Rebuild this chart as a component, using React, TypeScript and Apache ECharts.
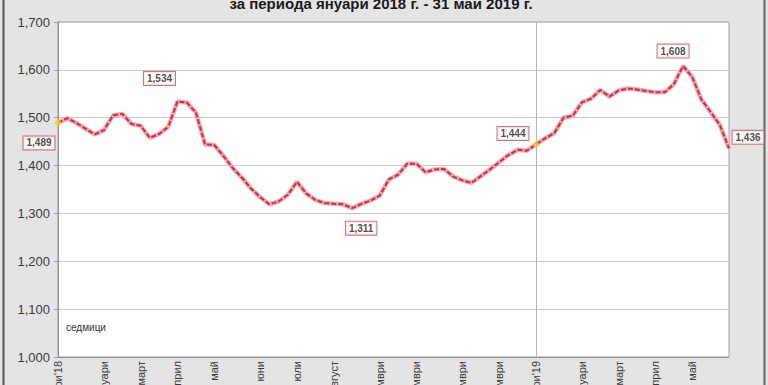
import React, { useEffect, useRef } from "react";
import * as echarts from "echarts";

const weekValues: number[] = [
  1.489, 1.499, 1.489, 1.477, 1.465, 1.474, 1.505, 1.508, 1.487, 1.483,
  1.458, 1.466, 1.481, 1.534, 1.532, 1.511, 1.444, 1.443, 1.42, 1.395,
  1.375, 1.352, 1.334, 1.319, 1.325, 1.339, 1.366, 1.342, 1.328, 1.322,
  1.32, 1.319, 1.311, 1.32, 1.327, 1.337, 1.371, 1.381, 1.404, 1.404,
  1.386, 1.392, 1.393, 1.377, 1.369, 1.364, 1.378, 1.392, 1.407, 1.422,
  1.433, 1.431, 1.444, 1.457, 1.468, 1.5, 1.504, 1.532, 1.54, 1.558,
  1.544, 1.557, 1.561, 1.559, 1.556, 1.553, 1.553, 1.57, 1.608, 1.585,
  1.538, 1.512, 1.485, 1.436,
];

const weekCategories: string[] = weekValues.map((_, i) => String(i));

const monthLabels: string[] = [
  "януари'18", "февруари", "март", "април", "май", "юни", "юли", "август",
  "септември", "октомври", "ноември", "декември", "януари'19", "февруари",
  "март", "април", "май",
];
const monthWeekIndex: number[] = [0, 5, 9, 13, 17, 22, 26, 30, 35, 39, 44, 48, 52, 57, 61, 65, 69];

const labeledWeeks: number[] = [0, 13, 32, 52, 68, 73];
const markerWeeks: number[] = [0, 12, 52];
const yearBreakWeek = 52;

const titleText = "за периода януари 2018 г. - 31 май 2019 г.";
const unitText = "седмици";

const fmt = (v: number) => v.toFixed(3).replace(".", ",");

export default function App() {
  const ref = useRef<HTMLDivElement>(null);
  useEffect(() => {
    if (!ref.current) return;
    const chart = echarts.init(ref.current, null, { renderer: "svg" });
    const labelOffsets: Record<number, [number, number]> = {
      0: [-19, 20],
      13: [-18, -23],
      32: [9, 20],
      52: [-23, -11],
      68: [-10, -15],
      73: [19, -11],
    };
    const monthMap: Record<number, string> = {};
    monthWeekIndex.forEach((w, k) => (monthMap[w] = monthLabels[k]));

    chart.setOption({
      animation: false,
      backgroundColor: "#e4e4e4",
      grid: {
        left: 58,
        right: 39,
        top: 22,
        bottom: 28,
        containLabel: false,
        outerBoundsMode: "none",
        show: true,
        backgroundColor: "#ffffff",
        borderColor: "#a0a0a0",
        borderWidth: 1,
      },
      xAxis: {
        type: "category",
        data: weekCategories,
        boundaryGap: false,
        axisLine: { lineStyle: { color: "#909090" } },
        axisTick: { show: false },
        splitLine: { show: false },
        axisLabel: {
          rotate: 90,
          margin: 4,
          fontSize: 11,
          color: "#3a3a3a",
          fontFamily: "Liberation Sans, Arial, sans-serif",
          interval: (idx: number) => monthMap[idx] !== undefined,
          formatter: (_v: string, idx: number) => monthMap[idx] ?? "",
        },
      },
      yAxis: {
        type: "value",
        min: 1,
        max: 1.7,
        interval: 0.1,
        axisLine: { show: true, lineStyle: { color: "#909090" } },
        axisTick: { show: true, length: 4, lineStyle: { color: "#a0a0a0" } },
        splitLine: { lineStyle: { color: "#c8c8c8", width: 1 } },
        axisLabel: {
          margin: 8,
          fontSize: 13,
          color: "#3a3a3a",
          fontFamily: "Liberation Sans, Arial, sans-serif",
          formatter: (v: number) => fmt(v),
        },
      },
      series: [
        {
          type: "line",
          data: weekValues,
          symbol: "none",
          lineStyle: { color: "#f2aab2", width: 4.5 },
          z: 2,
          markLine: {
            silent: true,
            symbol: "none",
            label: { show: false },
            lineStyle: { color: "#b8b8b8", width: 1, type: "solid" },
            data: [{ xAxis: weekCategories[yearBreakWeek] }],
          },
        },
        {
          type: "line",
          data: weekValues,
          symbol: "none",
          lineStyle: { color: "#c8303e", width: 2, type: [5, 2] },
          z: 3,
        },
        {
          type: "scatter",
          z: 4,
          data: markerWeeks.map((w) => ({
            value: [w, weekValues[w]],
            symbol: "diamond",
            symbolSize: w === 12 ? 4 : 8,
            itemStyle: { color: w === 12 ? "#f0b848" : "#f5d020" },
          })),
        },
        {
          type: "scatter",
          z: 5,
          symbolSize: 0,
          itemStyle: { color: "transparent" },
          data: labeledWeeks.map((w) => ({
            value: [w, weekValues[w]],
            label: {
              show: true,
              position: "inside",
              offset: labelOffsets[w],
              formatter: () => fmt(weekValues[w]),
              backgroundColor: "#ffffff",
              borderColor: "#c65058",
              borderWidth: 1,
              padding: [2, 3, 1, 3],
              fontSize: 10,
              fontWeight: "bold",
              color: "#222",
              fontFamily: "Liberation Sans, Arial, sans-serif",
            },
          })),
        },
      ],
      graphic: [
        {
          type: "text",
          x: 381,
          y: 3,
          style: {
            text: titleText,
            fontSize: 15,
            fontWeight: "bold",
            fill: "#1a1a1a",
            fontFamily: "Liberation Sans, Arial, sans-serif",
            align: "center",
            verticalAlign: "middle",
          },
        },
        {
          type: "text",
          x: 66,
          y: 327,
          style: {
            text: unitText,
            fontSize: 10,
            fill: "#333",
            fontFamily: "Liberation Sans, Arial, sans-serif",
            verticalAlign: "middle",
          },
        },
        {
          type: "line",
          shape: { x1: 3.5, y1: 0, x2: 3.5, y2: 385 },
          style: { stroke: "#555", lineWidth: 2 },
        },
        {
          type: "line",
          shape: { x1: 764.5, y1: 0, x2: 764.5, y2: 385 },
          style: { stroke: "#666", lineWidth: 2 },
        },
      ],
    });
    return () => chart.dispose();
  }, []);
  return (
    <div
      ref={ref}
      style={{ position: "fixed", left: 0, top: 0, width: 768, height: 385 }}
    />
  );
}
